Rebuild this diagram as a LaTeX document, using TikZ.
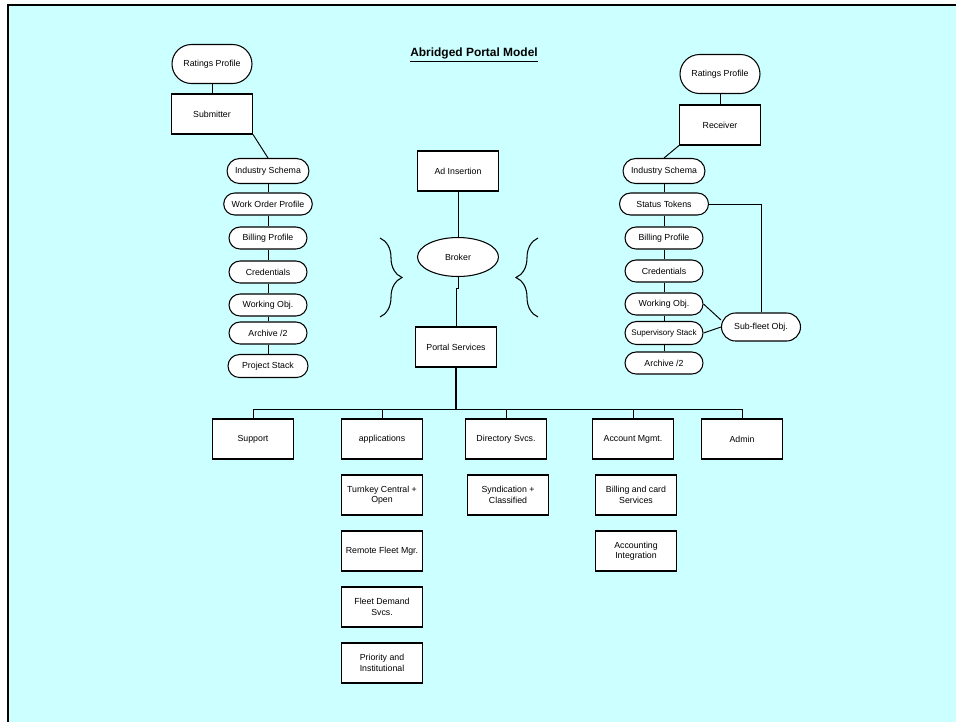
\documentclass[tikz,border=0pt]{standalone}
\usepackage{fontspec}
\setmainfont{Liberation Sans}
\usetikzlibrary{shapes,decorations.pathreplacing}
\definecolor{fond}{HTML}{CCFFFF}
\tikzstyle{boite}=[rectangle,draw,fill=white,minimum width=1.62cm,minimum height=0.8cm,
text=black,font=\fontsize{5}{6}\selectfont,align=center,inner sep=1pt,line width=0.6pt]
\tikzstyle{bulle}=[rectangle,rounded corners=0.22cm,draw,fill=white,minimum width=1.56cm,
minimum height=0.44cm,inner xsep=0.16cm,inner ysep=1pt,text=black,font=\fontsize{5}{6}\selectfont,line width=0.6pt]
\tikzstyle{profil}=[rectangle,rounded corners=0.39cm,draw,fill=white,minimum width=1.6cm,
minimum height=0.78cm,text=black,font=\fontsize{5}{6}\selectfont,line width=0.6pt]
\tikzstyle{lien}=[line width=0.55pt]
\tikzstyle{accolade}=[decorate,decoration={brace,amplitude=0.44cm},line width=0.6pt]
\begin{document}
\begin{tikzpicture}[x=0.02cm,y=-0.02cm]
      \useasboundingbox (0,0) rectangle (956,721);
      \clip (0,0) rectangle (956,721);
      \fill[white] (0,0) rectangle (956,721);
      \fill[fond] (8,5) rectangle (970,730);
      \draw[line width=1.2pt] (8,730) -- (8,5) -- (970,5);

      \node (T) at (474,55) {\fontsize{6.8}{8}\selectfont\bfseries\underline{Abridged Portal Model}};

      \node[profil] (RP1) at (212,64) {Ratings Profile};
      \node[boite] (Sb) at (212,114) {Submitter};
      \node[bulle,minimum height=0.5cm,rounded corners=0.25cm] (IS1) at (268,171) {Industry Schema};
      \node[bulle] (WO1) at (268,204) {Work Order Profile};
      \node[bulle] (BP1) at (268,238) {Billing Profile};
      \node[bulle] (CR1) at (268,272) {Credentials};
      \node[bulle] (WK1) at (268,305) {Working Obj.};
      \node[bulle] (AR1) at (268,333) {Archive /2};
      \node[bulle,minimum width=1.6cm,minimum height=0.46cm,rounded corners=0.23cm] (PS1) at (268,366) {Project Stack};

      \node[boite] (AI) at (458,171) {Ad Insertion};
      \node[ellipse,draw,fill=white,minimum width=1.62cm,minimum height=0.78cm,
      font=\fontsize{5}{6}\selectfont,line width=0.6pt] (BR) at (458,257) {Broker};
      \node[boite] (PSv) at (456,347) {Portal Services};

      \node[profil] (RP2) at (720,74) {Ratings Profile};
      \node[boite] (Rc) at (720,125) {Receiver};
      \node[bulle,minimum height=0.5cm,rounded corners=0.25cm] (IS2) at (664,171) {Industry Schema};
      \node[bulle,minimum width=1.78cm] (ST2) at (664,204) {Status Tokens};
      \node[bulle] (BP2) at (664,238) {Billing Profile};
      \node[bulle] (CR2) at (664,271) {Credentials};
      \node[bulle] (WK2) at (664,304) {Working Obj.};
      \node[bulle,inner xsep=0.1cm,minimum height=0.46cm,rounded corners=0.23cm,
      font=\fontsize{4.6}{5.5}\selectfont] (SS2) at (664,333) {Supervisory Stack};
      \node[bulle] (AR2) at (664,363) {Archive /2};
      \node[bulle,minimum width=1.58cm,minimum height=0.56cm,rounded corners=0.28cm] (SF) at (761,327) {Sub-fleet Obj.};

      \node[boite] (Sp) at (253,439) {Support};
      \node[boite] (Ap) at (382,439) {applications};
      \node[boite] (DS) at (506,439) {Directory Svcs.};
      \node[boite] (AM) at (633,439) {Account Mgmt.};
      \node[boite] (Ad) at (742,439) {Admin};

      \node[boite] (TC) at (382,495) {Turnkey Central +\\Open};
      \node[boite] (RF) at (382,551) {Remote Fleet Mgr.};
      \node[boite] (FD) at (382,607) {Fleet Demand\\Svcs.};
      \node[boite] (PI) at (382,663) {Priority and\\Institutional};
      \node[boite] (SC) at (508,495) {Syndication +\\Classified};
      \node[boite] (BC) at (636,495) {Billing and card\\Services};
      \node[boite] (AcI) at (636,551) {Accounting\\Integration};

      \draw[lien] (RP1) -- (Sb);
      \draw[lien] (Sb.south east) -- (IS1.north);
      \draw[lien] (IS1) -- (WO1) -- (BP1) -- (CR1) -- (WK1) -- (AR1) -- (PS1);

      \draw[lien] (RP2) -- (Rc);
      \draw[lien] (Rc.south west) -- (IS2.north);
      \draw[lien] (IS2) -- (ST2) -- (BP2) -- (CR2) -- (WK2) -- (SS2) -- (AR2);
      \draw[lien] (ST2.east) -| (SF.north);
      \draw[lien] (WK2.east) -- ([yshift=0.14cm]SF.west);
      \draw[lien] (SS2.east) -- (SF.west);

      \draw[lien] (AI) -- (BR);
      \draw[lien] (BR.south) -- ++(0,11) -- ++(-2,0) -- (PSv.north);
      \draw[accolade] (380,238) -- (380,317);
      \draw[accolade] (538,317) -- (538,238);

      \coordinate (B) at (456,409);
      \draw[line width=1pt] (PSv.south) -- (B);
      \draw[lien] (Sp.north) |- (B) -| (Ad.north);
      \foreach \n in {Ap,DS,AM} \draw[lien] (\n.north) -- (\n.north |- B);
\end{tikzpicture}
\end{document}
